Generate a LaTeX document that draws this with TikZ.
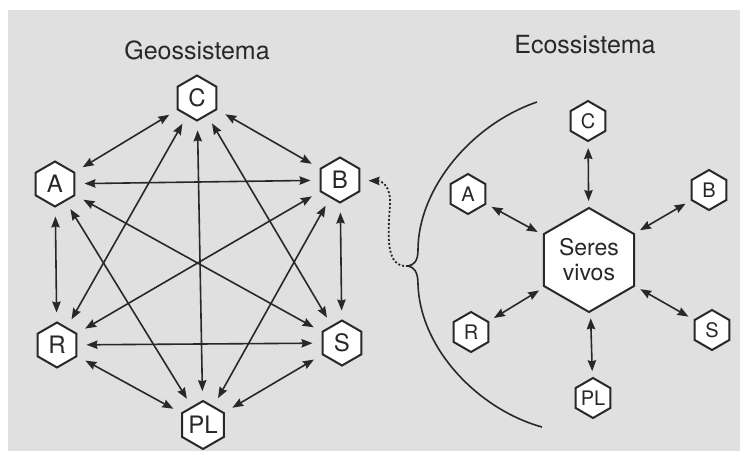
\documentclass[tikz,border=0pt]{standalone}
\usepackage{fontspec}
\setmainfont{TeX Gyre Heros}
\usetikzlibrary{shapes.geometric,arrows.meta}

\definecolor{paper}{RGB}{224,224,224}
\definecolor{ink}{RGB}{40,40,40}

\begin{document}
\begin{tikzpicture}[
    x=0.5pt, y=-0.5pt,
    hexa/.style={regular polygon, regular polygon sides=6, shape border rotate=30,
        draw=ink, fill=white, line width=1pt, inner sep=0pt, text=ink},
    geo/.style={hexa, minimum size=22.5pt, font=\fontsize{12}{13}\selectfont},
    eco/.style={hexa, minimum size=20pt, font=\fontsize{10}{11}\selectfont},
    living/.style={hexa, minimum size=52pt, align=center, font=\fontsize{11.5}{12.5}\selectfont},
    link/.style={<->, >={Stealth[length=5.5pt,width=4.2pt,inset=0.6pt]}, ink, line width=0.8pt,
        shorten <=4.5pt, shorten >=4.5pt},
    ecolink/.style={link, shorten <=3pt, shorten >=3pt},
    title/.style={text=ink, font=\fontsize{12.5}{14}\selectfont},
]
\useasboundingbox (0,0) rectangle (740,451);
\fill[paper] (8,10) rectangle (740,451);

% === Geossistema (left side) ===
\node[title] (geotitle) at (197,50) {Geossistema};

\node[geo] (gc) at (197,98) {C};
\node[geo] (ga) at (55,184) {A};
\node[geo] (gb) at (340,180) {B};
\node[geo] (gr) at (57,345) {R};
\node[geo] (gs) at (342,343) {S};
\node[geo] (gpl) at (203,425) {PL};

% Links from C
\draw[link] (gc) -- (ga);
\draw[link] (gc) -- (gb);
\draw[link] (gc) -- (gr);
\draw[link] (gc) -- (gs);
\draw[link] (gc) -- (gpl);

% Links from A
\draw[link] (ga) -- (gb);
\draw[link] (ga) -- (gr);
\draw[link] (ga) -- (gs);
\draw[link] (ga) -- (gpl);

% Links from B
\draw[link] (gb) -- (gr);
\draw[link] (gb) -- (gs);
\draw[link] (gb) -- (gpl);

% Bottom links
\draw[link] (gr) -- (gs);
\draw[link] (gr) -- (gpl);
\draw[link] (gs) -- (gpl);

% === Ecossistema (right side) ===
\node[title] (ecotitle) at (585,45) {Ecossistema};

\node[living] (sv) at (589,260) {Seres\\vivos};

\node[eco] (ec) at (588,121) {C};
\node[eco] (ea) at (468,194) {A};
\node[eco] (eb) at (709,190) {B};
\node[eco] (er) at (471,332) {R};
\node[eco] (es) at (712,330) {S};
\node[eco] (epl) at (593,398) {PL};

\draw[ecolink] (ec) -- (sv);
\draw[ecolink] (ea) -- (sv);
\draw[ecolink] (eb) -- (sv);
\draw[ecolink] (er) -- (sv);
\draw[ecolink] (es) -- (sv);
\draw[ecolink] (epl) -- (sv);

% Brace round the ecosystem
\coordinate (cusp) at (408,266);
\draw[ink, line width=0.8pt] (537,102) .. controls (470,125) and (418,190) .. (418,250)
    .. controls (418,261) and (414,265) .. (cusp)
    .. controls (414,267) and (418,272) .. (418,284)
    .. controls (420,350) and (480,410) .. (542,427);

% Dotted link back to B
\draw[ink, line width=0.9pt, dash pattern=on 1pt off 1pt,
    -{Stealth[length=5.5pt,width=4.2pt,inset=0.6pt]}, shorten >=4pt]
    (cusp) .. controls (385,268) and (388,235) .. (390,205)
    .. controls (391,186) and (382,181) .. (gb);

\end{tikzpicture}
\end{document}
